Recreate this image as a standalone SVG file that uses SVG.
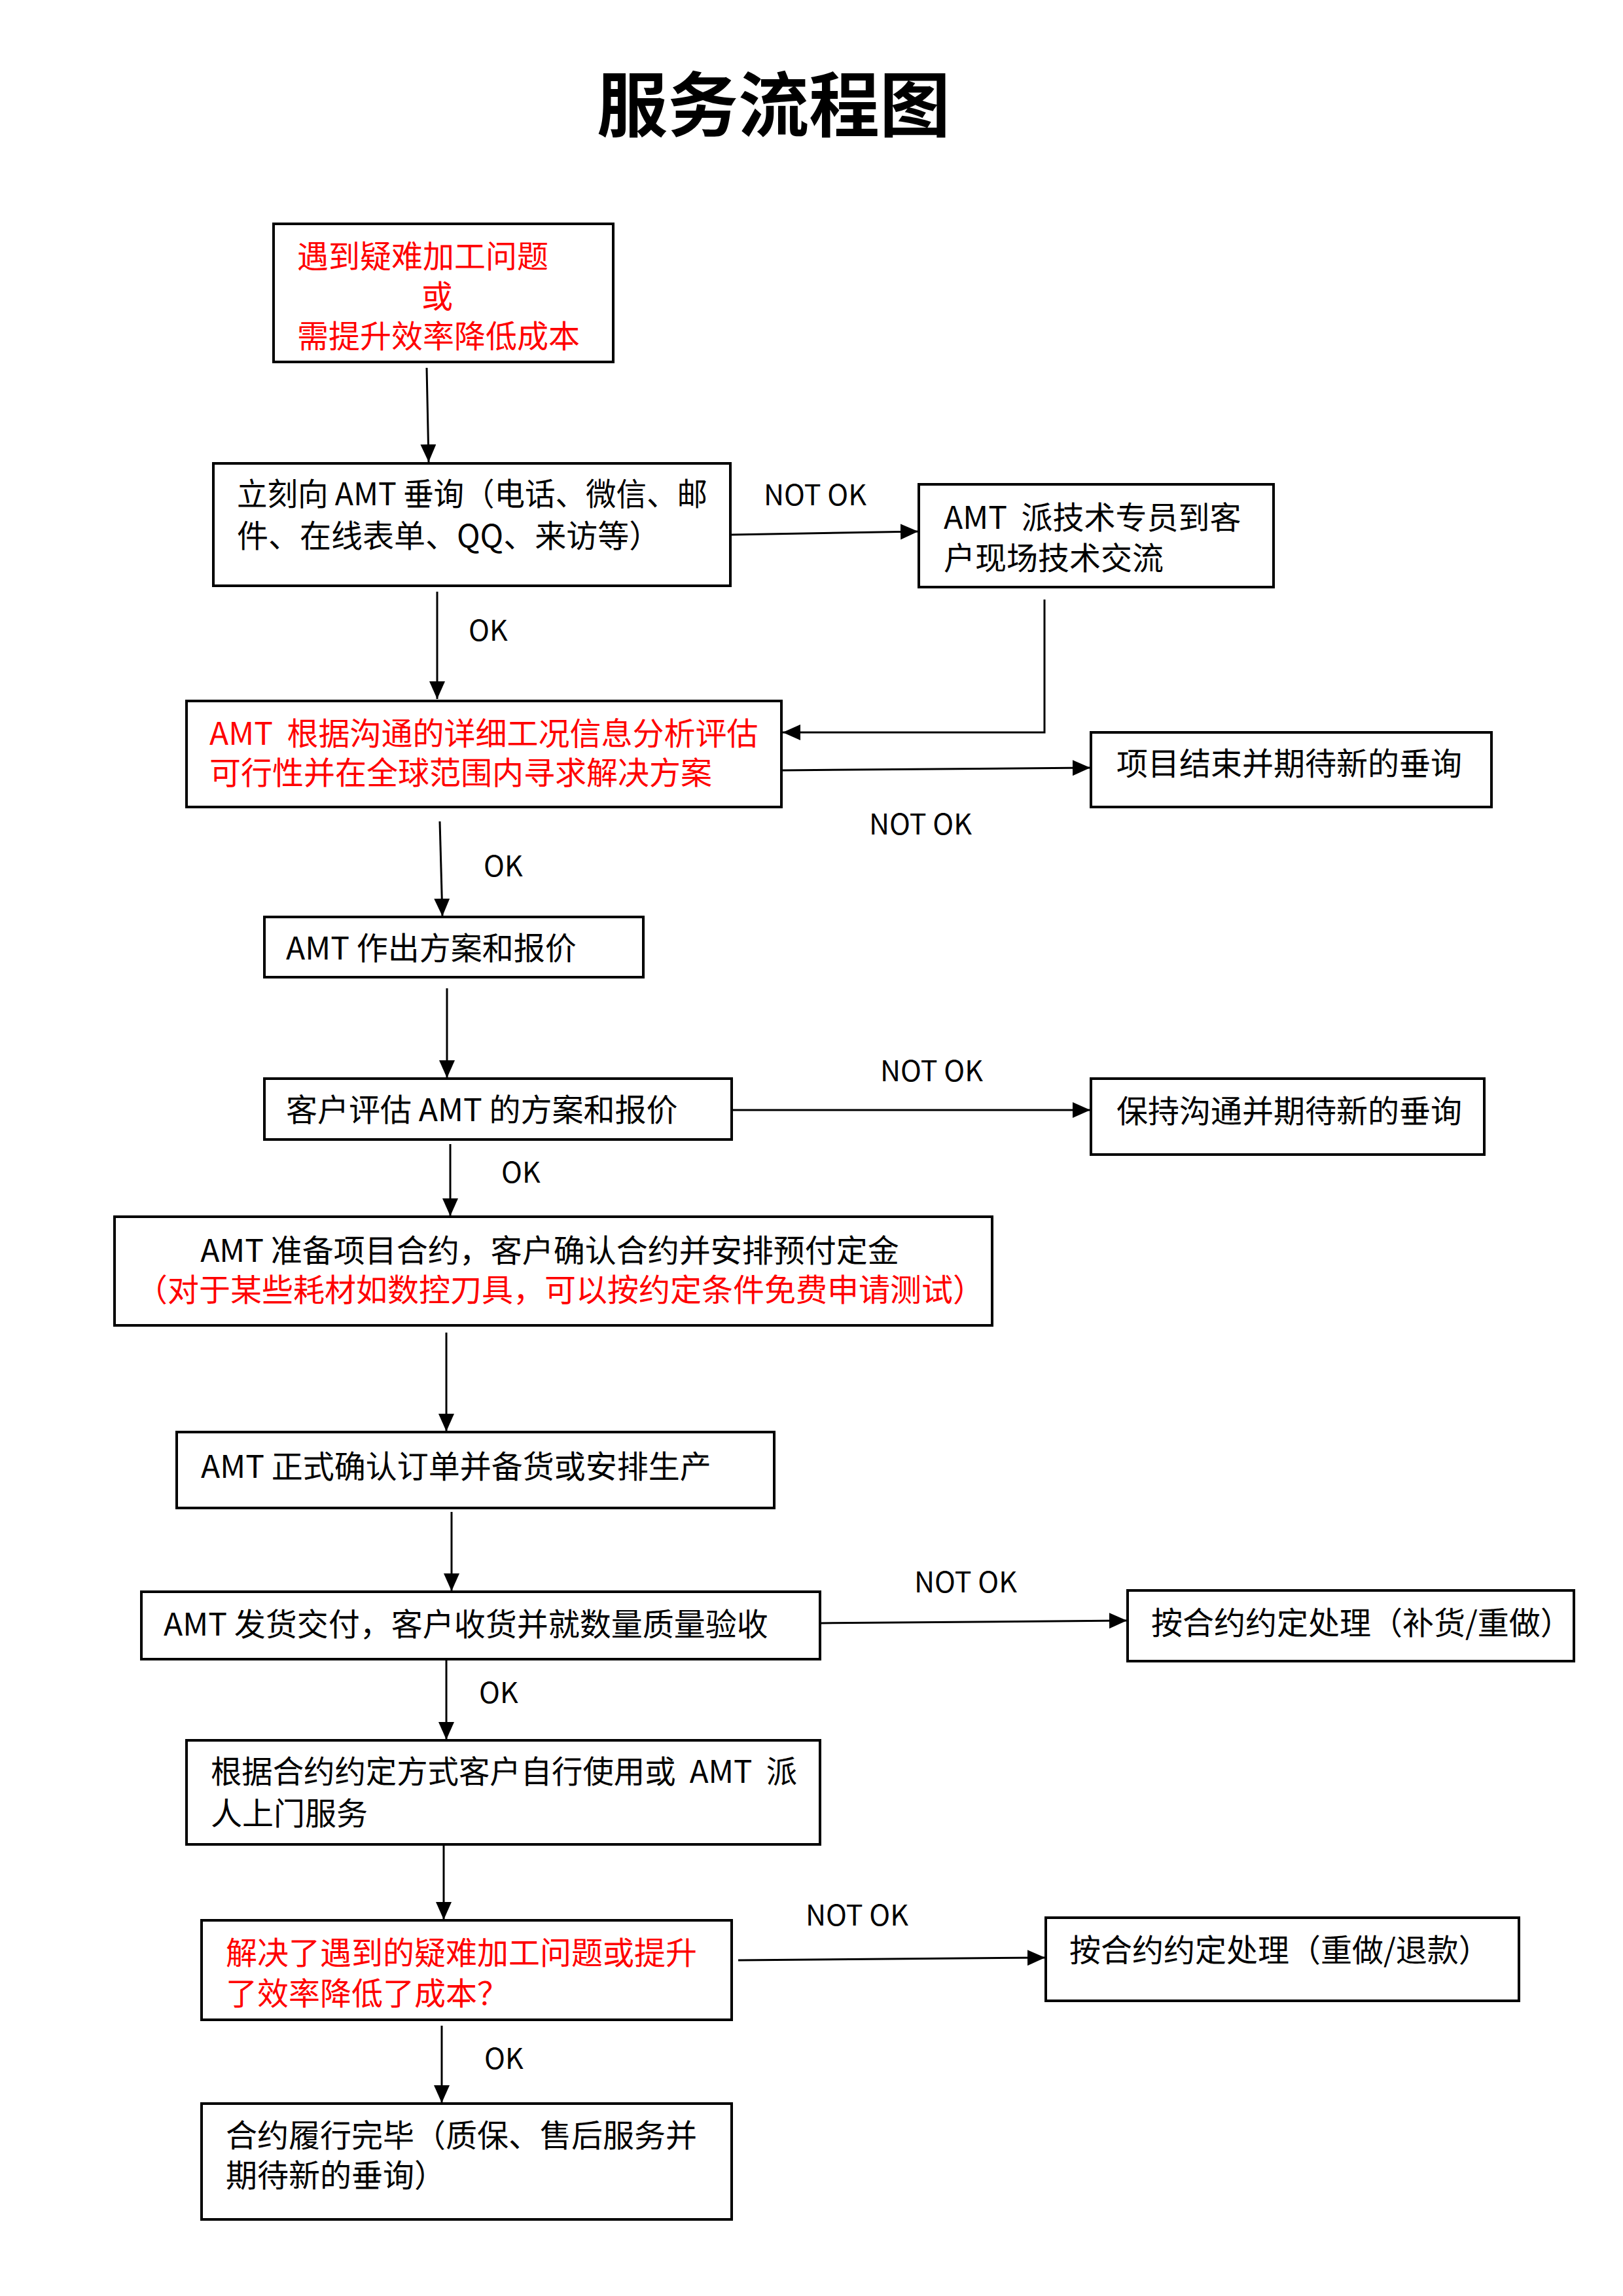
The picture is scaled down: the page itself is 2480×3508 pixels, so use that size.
<svg xmlns="http://www.w3.org/2000/svg" width="2480" height="3508" viewBox="0 0 2480 3508">
<style>
.box{fill:#fff;stroke:#000;stroke-width:4}
.t{font-family:"Noto Sans CJK SC","Noto Sans",sans-serif;font-size:48px;fill:#000}
.r{fill:#ff0000}
.lbl{font-family:"Noto Sans CJK SC","Noto Sans",sans-serif;font-size:43px;fill:#000}
.title{font-family:"Noto Sans CJK SC",sans-serif;font-size:108px;font-weight:700;fill:#000}
.c{fill:none;stroke:#000;stroke-width:3}
</style>
<defs>
<marker id="ah" markerUnits="userSpaceOnUse" markerWidth="30" markerHeight="26" refX="27" refY="12" orient="auto">
<path d="M0,0 L27,12 L0,24 Z" fill="#000"/>
</marker>
</defs>
<rect width="2480" height="3508" fill="#fff"/>
<text class="title" x="1182" y="200" text-anchor="middle">服务流程图</text>

<g id="connectors">
<path class="c" d="M652,562 L655,706" marker-end="url(#ah)"/>
<path class="c" d="M1117,817 L1403,812" marker-end="url(#ah)"/>
<path class="c" d="M668,904 L668,1068" marker-end="url(#ah)"/>
<path class="c" d="M1596,916 L1596,1119 L1196,1119" marker-end="url(#ah)"/>
<path class="c" d="M1194,1177 L1666,1173" marker-end="url(#ah)"/>
<path class="c" d="M672,1255 L676,1400" marker-end="url(#ah)"/>
<path class="c" d="M683,1510 L683,1647" marker-end="url(#ah)"/>
<path class="c" d="M1118,1696 L1666,1696" marker-end="url(#ah)"/>
<path class="c" d="M688,1748 L688,1858" marker-end="url(#ah)"/>
<path class="c" d="M682,2036 L682,2187" marker-end="url(#ah)"/>
<path class="c" d="M690,2310 L690,2431" marker-end="url(#ah)"/>
<path class="c" d="M1253,2480 L1722,2476" marker-end="url(#ah)"/>
<path class="c" d="M682,2536 L682,2658" marker-end="url(#ah)"/>
<path class="c" d="M678,2819 L678,2933" marker-end="url(#ah)"/>
<path class="c" d="M1128,2995 L1597,2991" marker-end="url(#ah)"/>
<path class="c" d="M675,3095 L675,3213" marker-end="url(#ah)"/>
<text class="lbl" x="1167" y="772">NOT OK</text>
<text class="lbl" x="716" y="979">OK</text>
<text class="lbl" x="1328" y="1275">NOT OK</text>
<text class="lbl" x="739" y="1339">OK</text>
<text class="lbl" x="1345" y="1652">NOT OK</text>
<text class="lbl" x="766" y="1807">OK</text>
<text class="lbl" x="1397" y="2433">NOT OK</text>
<text class="lbl" x="732" y="2602">OK</text>
<text class="lbl" x="1231" y="2942">NOT OK</text>
<text class="lbl" x="740" y="3161">OK</text>
</g>

<g id="n1">
<rect class="box" x="418" y="342" width="519" height="211"/>
<text class="t r" x="454" y="409">遇到疑难加工问题</text>
<text class="t r" x="668" y="470" text-anchor="middle">或</text>
<text class="t r" x="454" y="531">需提升效率降低成本</text>
</g>
<g id="n2">
<rect class="box" x="326" y="708" width="790" height="187"/>
<text class="t" x="362" y="772" textLength="719" lengthAdjust="spacingAndGlyphs">立刻向 AMT 垂询（电话、微信、邮</text>
<text class="t" x="362" y="836">件、在线表单、QQ、来访等）</text>
</g>
<g id="n3">
<rect class="box" x="1404" y="740" width="542" height="157"/>
<text class="t" x="1442" y="808" xml:space="preserve">AMT  派技术专员到客</text>
<text class="t" x="1442" y="870">户现场技术交流</text>
</g>
<g id="n4">
<rect class="box" x="285" y="1071" width="909" height="162"/>
<text class="t r" x="320" y="1138" xml:space="preserve">AMT  根据沟通的详细工况信息分析评估</text>
<text class="t r" x="320" y="1198">可行性并在全球范围内寻求解决方案</text>
</g>
<g id="n5">
<rect class="box" x="1667" y="1119" width="612" height="114"/>
<text class="t" x="1706" y="1184">项目结束并期待新的垂询</text>
</g>
<g id="n6">
<rect class="box" x="404" y="1401" width="579" height="92"/>
<text class="t" x="437" y="1466">AMT 作出方案和报价</text>
</g>
<g id="n7">
<rect class="box" x="404" y="1648" width="714" height="93"/>
<text class="t" x="437" y="1713">客户评估 AMT 的方案和报价</text>
</g>
<g id="n8">
<rect class="box" x="1667" y="1648" width="601" height="116"/>
<text class="t" x="1706" y="1715">保持沟通并期待新的垂询</text>
</g>
<g id="n9">
<rect class="box" x="175" y="1859" width="1341" height="166"/>
<text class="t" x="840" y="1928" text-anchor="middle">AMT 准备项目合约，客户确认合约并安排预付定金</text>
<text class="t r" x="856" y="1988" text-anchor="middle">（对于某些耗材如数控刀具，可以按约定条件免费申请测试）</text>
</g>
<g id="n10">
<rect class="box" x="270" y="2188" width="913" height="116"/>
<text class="t" x="307" y="2258">AMT 正式确认订单并备货或安排生产</text>
</g>
<g id="n11">
<rect class="box" x="216" y="2432" width="1037" height="103"/>
<text class="t" x="250" y="2499">AMT 发货交付，客户收货并就数量质量验收</text>
</g>
<g id="n12">
<rect class="box" x="1723" y="2430" width="682" height="108"/>
<text class="t" x="1759" y="2497">按合约约定处理（补货/重做）</text>
</g>
<g id="n13">
<rect class="box" x="285" y="2659" width="968" height="159"/>
<text class="t" x="322" y="2724" xml:space="preserve" textLength="896" lengthAdjust="spacingAndGlyphs">根据合约约定方式客户自行使用或  AMT  派</text>
<text class="t" x="322" y="2788">人上门服务</text>
</g>
<g id="n14">
<rect class="box" x="308" y="2934" width="810" height="152"/>
<text class="t r" x="345" y="3001">解决了遇到的疑难加工问题或提升</text>
<text class="t r" x="345" y="3063">了效率降低了成本？</text>
</g>
<g id="n15">
<rect class="box" x="1598" y="2930" width="723" height="127"/>
<text class="t" x="1634" y="2997">按合约约定处理（重做/退款）</text>
</g>
<g id="n16">
<rect class="box" x="308" y="3214" width="810" height="177"/>
<text class="t" x="345" y="3280">合约履行完毕（质保、售后服务并</text>
<text class="t" x="345" y="3341">期待新的垂询）</text>
</g>
</svg>
